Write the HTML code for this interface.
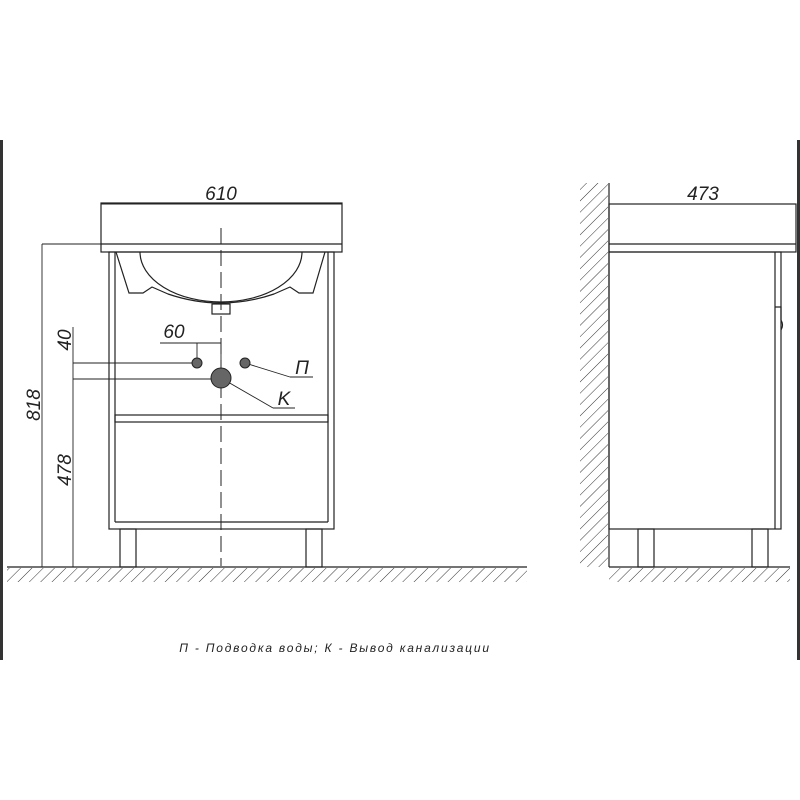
<!DOCTYPE html>
<html><head><meta charset="utf-8"><style>
html,body{margin:0;padding:0;background:#fff;}
svg{display:block;}
text{font-family:"Liberation Sans",sans-serif;font-style:italic;fill:#222;}
</style></head><body>
<svg width="800" height="800" viewBox="0 0 800 800" xmlns="http://www.w3.org/2000/svg">
<defs>
<pattern id="h" width="8" height="8" patternUnits="userSpaceOnUse" patternTransform="rotate(45)">
<line x1="0" y1="0" x2="0" y2="8" stroke="#333" stroke-width="1"/>
</pattern>
</defs>
<rect x="0" y="140" width="3" height="520" fill="#333"/>
<rect x="797" y="140" width="3" height="520" fill="#333"/>
<g stroke="#222" stroke-width="1.2" fill="none">
<rect x="101" y="203" width="241" height="49"/>
<line x1="101" y1="244" x2="342" y2="244"/>
<rect x="109" y="252" width="225" height="277"/>
<line x1="115" y1="252" x2="115" y2="522"/>
<line x1="328" y1="252" x2="328" y2="522"/>
<line x1="115" y1="522" x2="328" y2="522"/>
<rect x="115" y="415" width="213" height="7"/>
<rect x="120" y="529" width="16" height="38"/>
<rect x="306" y="529" width="16" height="38"/>
<path d="M140 252 A81 50 0 0 0 302 252"/>
<path d="M116 252 L129 293 L143 293 L152 287 L168 294 Q221 312 274 294 L290 287 L299 293 L313 293 L325 252"/>
<rect x="212" y="304" width="18" height="10"/>
<line x1="221" y1="228" x2="221" y2="566" stroke-dasharray="16 6" stroke-width="1"/>
<line x1="101" y1="204" x2="342" y2="204" stroke-width="0.9"/>
<line x1="42" y1="244" x2="101" y2="244" stroke-width="0.9"/>
<line x1="42" y1="244" x2="42" y2="567" stroke-width="0.9"/>
<line x1="73" y1="327" x2="73" y2="567" stroke-width="0.9"/>
<line x1="73" y1="363" x2="197" y2="363" stroke-width="0.9"/>
<line x1="73" y1="379" x2="213" y2="379" stroke-width="0.9"/>
<line x1="160" y1="343" x2="221" y2="343" stroke-width="0.9"/>
<line x1="197" y1="343" x2="197" y2="358" stroke-width="0.9"/>
<line x1="221" y1="343" x2="221" y2="360" stroke-width="0.9"/>
<line x1="245" y1="363" x2="290" y2="377" stroke-width="0.9"/>
<line x1="290" y1="377" x2="313" y2="377" stroke-width="0.9"/>
<line x1="221" y1="378" x2="273" y2="408" stroke-width="0.9"/>
<line x1="273" y1="408" x2="295" y2="408" stroke-width="0.9"/>
<line x1="7" y1="567" x2="527" y2="567"/>
<line x1="609" y1="183" x2="609" y2="567"/>
<rect x="609" y="204" width="187" height="48"/>
<line x1="609" y1="244" x2="796" y2="244"/>
<rect x="609" y="252" width="172" height="277"/>
<line x1="775" y1="252" x2="775" y2="529"/>
<path d="M775 307 L781 307 L781 320 Q784 325 781 330"/>
<rect x="638" y="529" width="16" height="38"/>
<rect x="752" y="529" width="16" height="38"/>
<line x1="609" y1="567" x2="790" y2="567"/>
<line x1="609" y1="204" x2="793" y2="204" stroke-width="0.9"/>
</g>
<rect x="7" y="568" width="520" height="14" fill="url(#h)"/>
<rect x="580" y="183" width="28" height="384" fill="url(#h)"/>
<rect x="609" y="568" width="181" height="14" fill="url(#h)"/>
<circle cx="197" cy="363" r="5" fill="#666" stroke="#222"/>
<circle cx="245" cy="363" r="5" fill="#666" stroke="#222"/>
<circle cx="221" cy="378" r="10" fill="#666" stroke="#222"/>
<g font-size="19">
<text x="221" y="200" text-anchor="middle">610</text>
<text x="703" y="200" text-anchor="middle">473</text>
<text x="174" y="338" text-anchor="middle">60</text>
<text x="302" y="374" text-anchor="middle">П</text>
<text x="284" y="405" text-anchor="middle">K</text>
<text transform="translate(40,405) rotate(-90)" text-anchor="middle">818</text>
<text transform="translate(71,470) rotate(-90)" text-anchor="middle">478</text>
<text transform="translate(71,340) rotate(-90)" text-anchor="middle">40</text>
</g>
<text x="335" y="652" font-size="12" text-anchor="middle" letter-spacing="1.8">П - Подводка воды; К - Вывод канализации</text>
</svg>
</body></html>
